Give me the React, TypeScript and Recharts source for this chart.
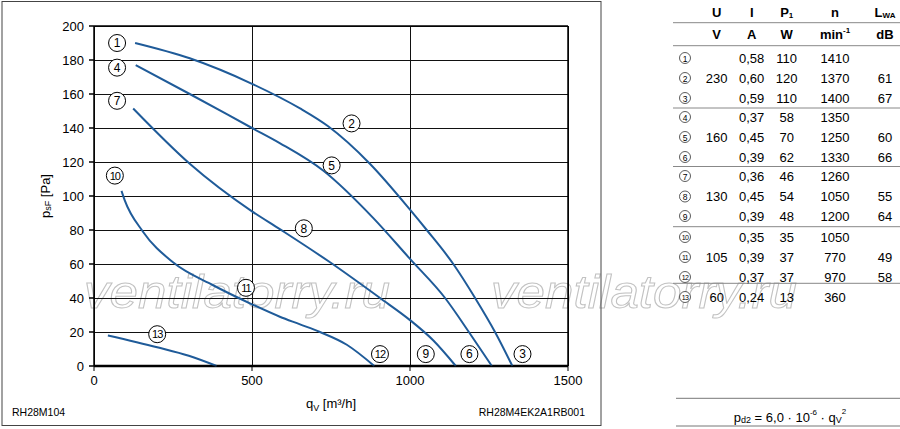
import React from "react";
import {
  LineChart,
  Line,
  XAxis,
  YAxis,
  CartesianGrid,
  ReferenceDot,
  ReferenceLine,
} from "recharts";

const FONT = '"Liberation Sans", Arial, sans-serif';
const BLUE = "#1f5b99";

// curves: q_V [m³/h] vs p_sF [Pa]
const curve1 = [
  { q: 130, p: 190 }, { q: 303, p: 181 }, { q: 500, p: 166 }, { q: 652, p: 151.5 },
  { q: 741, p: 141 }, { q: 873, p: 119 }, { q: 1000, p: 92 }, { q: 1053, p: 80 },
  { q: 1137, p: 60 }, { q: 1206, p: 40 }, { q: 1269, p: 20 }, { q: 1324, p: 0 },
];
const curve4 = [
  { q: 132, p: 177 }, { q: 303, p: 160 }, { q: 500, p: 140 }, { q: 589, p: 131 },
  { q: 725, p: 115 }, { q: 884, p: 87 }, { q: 1000, p: 63 }, { q: 1111, p: 40 },
  { q: 1190, p: 19 }, { q: 1259, p: 0 },
];
const curve7 = [
  { q: 124, p: 151.5 }, { q: 303, p: 119 }, { q: 500, p: 91 }, { q: 588, p: 80.5 },
  { q: 747, p: 61 }, { q: 905, p: 40 }, { q: 1000, p: 27 }, { q: 1074, p: 15 },
  { q: 1145, p: 0 },
];
const curve10 = [
  { q: 87, p: 103 }, { q: 97, p: 97.6 }, { q: 155, p: 79 }, { q: 250, p: 61 },
  { q: 377, p: 47.5 }, { q: 500, p: 36.3 }, { q: 588, p: 29 }, { q: 652, p: 24.5 },
  { q: 715, p: 20 }, { q: 800, p: 12.5 }, { q: 887, p: 0 },
];
const curve13 = [
  { q: 44, p: 18 }, { q: 200, p: 11 }, { q: 300, p: 6 }, { q: 388, p: 0 },
];
const curves = [curve1, curve4, curve7, curve10, curve13];

// circled markers on the chart
const markers = [
  { n: "1", q: 73, p: 190 }, { n: "4", q: 73, p: 175.5 }, { n: "7", q: 73, p: 156 },
  { n: "10", q: 66, p: 112 }, { n: "2", q: 815, p: 142.7 }, { n: "5", q: 752, p: 118 },
  { n: "8", q: 664, p: 81 }, { n: "11", q: 481, p: 46 }, { n: "13", q: 200, p: 18.7 },
  { n: "12", q: 905, p: 7 }, { n: "9", q: 1050, p: 7 }, { n: "6", q: 1188, p: 7 },
  { n: "3", q: 1356, p: 7 },
];

const xTicks = [0, 500, 1000, 1500];
const yTicks = [0, 20, 40, 60, 80, 100, 120, 140, 160, 180, 200];

// operating data table
const rowIds = ["1", "2", "3", "4", "5", "6", "7", "8", "9", "10", "11", "12", "13"];
const voltages = ["", "230", "", "", "160", "", "", "130", "", "", "105", "", "60"];
const currents = ["0,58", "0,60", "0,59", "0,37", "0,45", "0,39", "0,36", "0,45", "0,39", "0,35", "0,39", "0,37", "0,24"];
const powers = ["110", "120", "110", "58", "70", "62", "46", "54", "48", "35", "37", "37", "13"];
const speeds = ["1410", "1370", "1400", "1350", "1250", "1330", "1260", "1050", "1200", "1050", "770", "970", "360"];
const noise = ["", "61", "67", "", "60", "66", "", "55", "64", "", "49", "58", ""];

const rowY = [58, 78, 98, 117, 137, 157, 176, 196.5, 216, 237, 257, 277, 297];
const sepY = [22.7, 45.7, 108, 166.5, 226.7, 283.3];
const colX = { id: 685, u: 716.7, i: 751.7, p: 786.7, n: 835, l: 885 };

function YTitle({ viewBox }: any) {
  const cx = 45;
  const cy = viewBox.y + viewBox.height / 2;
  return (
    <text x={cx} y={cy} transform={`rotate(-90 ${cx} ${cy})`} textAnchor="middle"
      dominantBaseline="central" fontSize={13} fontFamily={FONT} fill="#000">
      p<tspan fontSize={9} dy={3}>sF</tspan><tspan dy={-3}> [Pa]</tspan>
    </text>
  );
}

function XTitle({ viewBox }: any) {
  const cx = viewBox.x + viewBox.width / 2;
  return (
    <text x={cx} y={408} textAnchor="middle" fontSize={13} fontFamily={FONT} fill="#000">
      q<tspan fontSize={9} dy={3}>V</tspan><tspan dy={-3}> [m³/h]</tspan>
    </text>
  );
}

function Watermark() {
  return (
    <svg width={900} height={429} style={{ position: "absolute", left: 0, top: 0 }}>
      {[84, 491].map((x) => (
        <text key={x} x={x} y={308} fontSize={46} fontStyle="italic" fontFamily={FONT} fill="none"
          stroke="#c2c2c2" strokeWidth={1} textLength={306} lengthAdjust="spacingAndGlyphs">
          ventilatorry.ru
        </text>
      ))}
    </svg>
  );
}

function Overlay() {
  const cell = (x: number, y: number, s: string, bold = false) => (
    <text x={x} y={y} textAnchor="middle" dominantBaseline="central" fontSize={13}
      fontWeight={bold ? "bold" : "normal"} fontFamily={FONT} fill="#000">{s}</text>
  );
  return (
    <svg width={900} height={429} style={{ position: "absolute", left: 0, top: 0, pointerEvents: "none" }}>
      <rect x={2} y={1.5} width={599} height={424} fill="none" stroke="#444" strokeWidth={1} />
      <text x={12} y={416} fontSize={10.5} fontFamily={FONT} fill="#000">RH28M104</text>
      <text x={585} y={416} textAnchor="end" fontSize={10.5} fontFamily={FONT} fill="#000">RH28M4EK2A1RB001</text>

      {sepY.map((y) => (
        <line key={y} x1={673} x2={900} y1={y} y2={y} stroke="#888" strokeWidth={1} />
      ))}
      {cell(colX.u, 12, "U", true)}
      {cell(colX.i, 12, "I", true)}
      <text x={colX.p} y={12} textAnchor="middle" dominantBaseline="central" fontSize={13}
        fontWeight="bold" fontFamily={FONT}>P<tspan fontSize={8} dy={3}>1</tspan></text>
      {cell(colX.n, 12, "n", true)}
      <text x={colX.l} y={12} textAnchor="middle" dominantBaseline="central" fontSize={13}
        fontWeight="bold" fontFamily={FONT}>L<tspan fontSize={8} dy={3}>WA</tspan></text>
      {cell(colX.u, 34, "V", true)}
      {cell(colX.i, 34, "A", true)}
      {cell(colX.p, 34, "W", true)}
      <text x={colX.n} y={34} textAnchor="middle" dominantBaseline="central" fontSize={13}
        fontWeight="bold" fontFamily={FONT}>min<tspan fontSize={8} dy={-4}>-1</tspan></text>
      {cell(colX.l, 34, "dB", true)}

      {rowIds.map((id, k) => (
        <g key={id}>
          <circle cx={colX.id} cy={rowY[k]} r={5.5} fill="#fff" stroke="#333" strokeWidth={0.8} />
          <text x={colX.id} y={rowY[k] + 0.5} textAnchor="middle" dominantBaseline="central"
            fontSize={id.length > 1 ? 7 : 8.5} fontFamily={FONT}
            letterSpacing={id.length > 1 ? -0.6 : 0}>{id}</text>
          {cell(colX.u, rowY[k], voltages[k])}
          {cell(colX.i, rowY[k], currents[k])}
          {cell(colX.p, rowY[k], powers[k])}
          {cell(colX.n, rowY[k], speeds[k])}
          {cell(colX.l, rowY[k], noise[k])}
        </g>
      ))}

      <line x1={676} x2={900} y1={398.3} y2={398.3} stroke="#777" strokeWidth={1} />
      <line x1={676} x2={900} y1={426} y2={426} stroke="#777" strokeWidth={1} />
      <text x={790} y={417} textAnchor="middle" dominantBaseline="central" fontSize={13} fontFamily={FONT}>
        p<tspan fontSize={9} dy={3}>d2</tspan>
        <tspan dy={-3}> = 6,0 · 10</tspan>
        <tspan fontSize={8} dy={-5}>-6</tspan>
        <tspan dy={5}> · q</tspan>
        <tspan fontSize={9} dy={3}>V</tspan>
        <tspan fontSize={8} dy={-9}>2</tspan>
      </text>
    </svg>
  );
}

export default function App() {
  return (
    <div style={{ position: "absolute", left: 0, top: 0, width: 900, height: 429, background: "#fff" }}>
      <Watermark />
      <LineChart width={900} height={429} margin={{ top: 26, right: 332, bottom: 33, left: 0 }}>
        <CartesianGrid stroke="#111" strokeWidth={1} shapeRendering="crispEdges" />
        <XAxis
          type="number"
          dataKey="q"
          domain={[0, 1500]}
          ticks={xTicks}
          height={30}
          tickSize={5}
          tickMargin={5}
          stroke="#000"
          tick={{ fontSize: 13, fill: "#000", fontFamily: FONT }}
          label={<XTitle />}
          allowDuplicatedCategory={false}
        />
        <YAxis
          type="number"
          domain={[0, 200]}
          ticks={yTicks}
          width={94}
          tickSize={5}
          tickMargin={5}
          stroke="#000"
          strokeWidth={1.5}
          tick={{ fontSize: 13, fill: "#000", fontFamily: FONT }}
          label={<YTitle />}
        />
        <ReferenceLine x={1500} stroke="#000" strokeWidth={1.5} />
        <ReferenceLine y={200} stroke="#000" strokeWidth={1.5} />
        <ReferenceLine y={0} stroke="#000" strokeWidth={2.5} />
        {curves.map((c, k) => (
          <Line
            key={k}
            data={c}
            dataKey="p"
            type="monotone"
            stroke={BLUE}
            strokeWidth={2}
            dot={false}
            isAnimationActive={false}
          />
        ))}
        {markers.map((m) => (
          <ReferenceDot
            key={m.n}
            x={m.q}
            y={m.p}
            r={8.5}
            fill="#fff"
            stroke="#000"
            strokeWidth={1}
            label={{
              value: m.n,
              position: "center",
              fontSize: m.n.length > 1 ? 11 : 12,
              fill: "#000",
              fontFamily: FONT,
              letterSpacing: m.n.length > 1 ? -1 : 0,
            }}
          />
        ))}
      </LineChart>
      <Overlay />
    </div>
  );
}
